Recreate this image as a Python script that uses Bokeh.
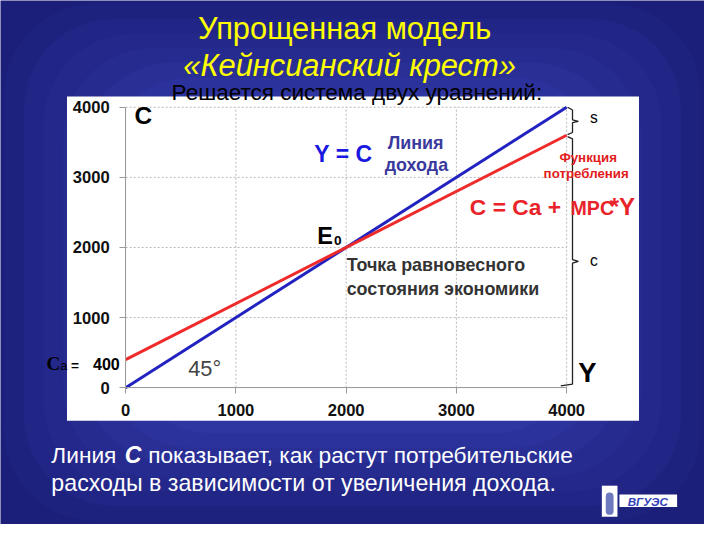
from bokeh.plotting import figure
from bokeh.models import Range1d, FixedTicker, Label, BoxAnnotation
from bokeh.embed import file_html
from bokeh.resources import INLINE

# ---- data ----
income = [0, 4000]              # Y
income_line = [0, 4000]         # Y = C (45 degree line)
consumption = [400, 3600]       # C = Ca + MPC*Y
autonomous = 400                # Ca
x_ticks = [0, 1000, 2000, 3000, 4000]
y_ticks = [0, 1000, 2000, 3000, 4000]
x_tick_labels = ["0", "1000", "2000", "3000", "4000"]
y_tick_labels = ["0", "1000", "2000", "3000", "4000"]

W, H = 704, 524
SX, SY = W / 720, H / 540
# reference pixel positions of the chart frame (slide layout)
RX0, RX1 = 128, 579   # x = 0 .. 4000
RY0, RY1 = 399, 110   # y = 0 .. 4000


def dx(px):
    return (px - RX0) / (RX1 - RX0) * 4000


def dy(py):
    return (RY0 - py) / (RY0 - RY1) * 4000


def fs(size):
    return f"{size * SX:.1f}px"


p = figure(width=W, height=H, output_backend="svg", toolbar_location=None,
           x_range=Range1d(dx(0), dx(720)), y_range=Range1d(dy(540), dy(0)),
           min_border=0, min_border_left=0, min_border_right=0,
           min_border_top=0, min_border_bottom=0)
p.border_fill_color = "#1c1f7a"
p.background_fill_color = "#1c1f7a"
p.outline_line_color = None
p.grid.visible = False

# background vignette
outer = (0x1c, 0x1f, 0x7a)
inner = (0x42, 0x4c, 0xc8)
n = 14
for i in range(n):
    t = (i + 1) / n
    col = "#%02x%02x%02x" % tuple(int(outer[k] + (inner[k] - outer[k]) * t) for k in range(3))
    insx, insy = 4 + i * 20, 4 + i * 15
    p.add_layout(BoxAnnotation(left=dx(insx), right=dx(720 - insx), top=dy(insy), bottom=dy(540 - insy),
                               fill_color=col, fill_alpha=1, line_alpha=0, level="image",
                               border_radius=90))

# white chart panel
p.add_layout(BoxAnnotation(left=dx(68), right=dx(653), top=dy(99), bottom=dy(433),
                           fill_color="white", fill_alpha=1, line_alpha=0, level="image"))

# grid (dotted)
p.segment(x0=x_ticks, y0=0, x1=x_ticks, y1=max(y_ticks), line_color="#b8b8b8", line_dash="2 2", line_width=1)
p.segment(x0=0, y0=y_ticks, x1=max(x_ticks), y1=y_ticks, line_color="#b8b8b8", line_dash="2 2", line_width=1)

# lines
p.line(income, income_line, line_color="#2222c0", line_width=3)
p.line(income, consumption, line_color="#ee2a2a", line_width=3)

# axes
for ax, ticks, labels in ((p.xaxis[0], x_ticks, x_tick_labels), (p.yaxis[0], y_ticks, y_tick_labels)):
    ax.ticker = FixedTicker(ticks=ticks)
    ax.major_label_overrides = dict(zip(ticks, labels))
    ax.fixed_location = 0
    ax.bounds = (0, 4000)
    ax.axis_line_color = "#9a9a9a"
    ax.major_tick_line_color = "#9a9a9a"
    ax.major_tick_out = 6
    ax.major_tick_in = 0
    ax.minor_tick_line_color = None
    ax.major_label_text_font = "Liberation Sans"
    ax.major_label_text_font_style = "bold"
    ax.major_label_text_font_size = fs(17)
    ax.major_label_text_color = "#111111"
p.yaxis[0].major_label_standoff = 10
p.xaxis[0].major_label_standoff = 10

# braces (s and c parts of income at Y = 4000)
y_top = income_line[-1]
c_top = consumption[-1]
bx = dx(585)
tip = dx(591)
p.line([dx(580), bx, bx, tip, bx, bx, dx(580)],
       [y_top, y_top - 40, (y_top + c_top) / 2 + 20, (y_top + c_top) / 2, (y_top + c_top) / 2 - 20, c_top + 40, c_top + 10],
       line_color="#222222", line_width=1.3)
p.line([dx(580), bx, bx, tip, bx, bx, dx(573)],
       [c_top - 20, c_top - 50, c_top / 2 + 25, c_top / 2, c_top / 2 - 25, 50, 25],
       line_color="#222222", line_width=1.3)


def lab(text, px, py, size, color="black", style="normal", align="left", font="Liberation Sans"):
    p.add_layout(Label(x=dx(px), y=dy(py), text=text, text_font=font, text_font_size=fs(size),
                       text_font_style=style, text_color=color, text_align=align,
                       text_baseline="middle"))


# title
lab("Упрощенная модель", 352, 29, 31.5, "#ffff00", align="center")
lab("«Кейнсианский крест»", 357, 67, 31.5, "#ffff00", style="italic", align="center")
lab("Решается система двух уравнений:", 175, 95, 23)

# chart texts
lab("C", 137, 118, 25, style="bold")
lab("Y = C", 321, 158, 23.5, "#1818e0", style="bold")
lab("Линия", 396, 147, 18.3, "#3a3a9e", style="bold")
lab("дохода", 393, 170, 18.3, "#3a3a9e", style="bold")
lab("Функция", 601, 162, 13.6, "#e21c1c", style="bold", align="center")
lab("потребления", 599, 178, 13.6, "#e21c1c", style="bold", align="center")
lab("C = Ca +", 480, 213, 23.3, "#e8242a", style="bold")
lab("MPC", 583, 214, 20, "#e8242a", style="bold")
lab("*Y", 623, 212, 24.5, "#e8242a", style="bold")
lab("E", 324, 243, 24, style="bold")
lab("0", 341, 247, 14, style="bold")
lab("Точка равновесного", 354, 273, 18.3, "#333333", style="bold")
lab("состояния экономики", 354, 297, 18.3, "#333333", style="bold")
lab("45°", 192, 379, 22.3, "#444444")
lab("C", 47, 374, 19.5, style="bold", font="Liberation Serif")
lab("a", 61, 377, 13)
lab("=", 72, 376, 14, style="bold")
lab(str(autonomous), 122, 375, 16.5, style="bold", align="right")
lab("s", 603, 121, 16)
lab("c", 603, 268, 16)
lab("Y", 591, 383, 28, style="bold")

# bottom text
lab("Линия", 52, 468, 23.2, "white")
lab("C", 127, 468, 23.7, "white", style="bold italic")
lab("показывает, как растут потребительские", 151, 468, 23.2, "white")
lab("расходы в зависимости от увеличения дохода.", 52, 497, 23.7, "white")

# logo
p.add_layout(BoxAnnotation(left=dx(615), right=dx(631), top=dy(500), bottom=dy(532),
                           fill_color="white", fill_alpha=1, line_alpha=0))
p.add_layout(BoxAnnotation(left=dx(619), right=dx(627), top=dy(507), bottom=dy(530),
                           fill_color="#4a58b0", fill_alpha=0.8, line_alpha=0, border_radius=4))
p.add_layout(BoxAnnotation(left=dx(633), right=dx(692), top=dy(509), bottom=dy(522),
                           fill_color="white", fill_alpha=1, line_alpha=0))
lab("ВГУЭС", 662, 516, 12, "#3040b8", style="bold italic", align="center")

open("out.html", "w").write(file_html(p, INLINE))
